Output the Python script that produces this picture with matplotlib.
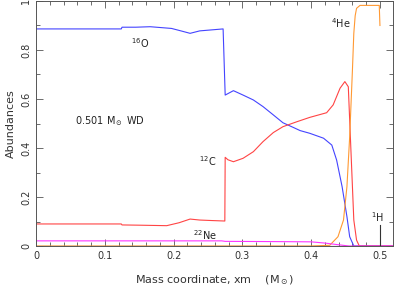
import numpy as np
import matplotlib
matplotlib.use('Agg')
import matplotlib.pyplot as plt
from matplotlib.ticker import MultipleLocator

# abundance profiles (mass coordinate in Msun)
o16_m = [0.0, 0.124, 0.125, 0.145, 0.166, 0.197, 0.212, 0.224, 0.238, 0.255, 0.272,
         0.275, 0.279, 0.287, 0.301, 0.316, 0.330, 0.345, 0.359, 0.374, 0.384, 0.398,
         0.418, 0.43, 0.437, 0.445, 0.452, 0.456, 0.462, 0.52]
o16_x = [0.886, 0.886, 0.893, 0.893, 0.895, 0.888, 0.877, 0.868, 0.878, 0.882, 0.886,
         0.616, 0.622, 0.634, 0.616, 0.596, 0.569, 0.535, 0.503, 0.484, 0.471, 0.46,
         0.44, 0.412, 0.351, 0.242, 0.12, 0.038, 0.0, 0.0]

c12_m = [0.0, 0.124, 0.125, 0.15, 0.19, 0.208, 0.224, 0.238, 0.255, 0.2745,
         0.275, 0.279, 0.287, 0.301, 0.316, 0.33, 0.345, 0.359, 0.379, 0.398, 0.4225,
         0.432, 0.442, 0.449, 0.454, 0.456, 0.459, 0.462, 0.466, 0.47, 0.52]
c12_x = [0.09, 0.09, 0.086, 0.085, 0.083, 0.095, 0.11, 0.106, 0.104, 0.102,
         0.362, 0.352, 0.344, 0.358, 0.385, 0.426, 0.463, 0.487, 0.507, 0.525, 0.544,
         0.576, 0.644, 0.671, 0.65, 0.514, 0.31, 0.106, 0.024, 0.0, 0.0]

he4_m = [0.0, 0.40, 0.427, 0.439, 0.447, 0.452, 0.456, 0.46, 0.462, 0.464, 0.466,
         0.471, 0.499, 0.5]
he4_x = [0.0, 0.0, 0.003, 0.038, 0.106, 0.242, 0.446, 0.718, 0.868, 0.94, 0.97,
         0.982, 0.982, 0.90]

ne22_m = [0.0, 0.27, 0.275, 0.35, 0.40, 0.42, 0.44, 0.455, 0.52]
ne22_x = [0.021, 0.021, 0.019, 0.018, 0.017, 0.012, 0.005, 0.0, 0.0]

h1_m = [0.0, 0.4995, 0.5, 0.5]
h1_x = [0.0, 0.0, 0.0, 0.086]

plt.rcParams['font.family'] = ['DejaVu Sans']
plt.rcParams['mathtext.fontset'] = 'dejavusans'

fig = plt.figure(figsize=(3.94, 2.91), dpi=100)
ax = fig.add_axes([0.0914, 0.1546, 0.9061, 0.842])

ax.plot(o16_m, o16_x, color='#4444ff', lw=0.8)
ax.plot(c12_m, c12_x, color='#ff4444', lw=0.8)
ax.plot(he4_m, he4_x, color='#ff9933', lw=0.8)
ax.plot(ne22_m, ne22_x, color='#ff33ff', lw=0.8)
ax.plot(h1_m, h1_x, color='#333333', lw=0.8)

ax.set_xlim(0, 0.519)
ax.set_ylim(0, 1.0)
ax.xaxis.set_major_locator(MultipleLocator(0.1))
ax.xaxis.set_minor_locator(MultipleLocator(0.02))
ax.yaxis.set_major_locator(MultipleLocator(0.2))
ax.yaxis.set_minor_locator(MultipleLocator(0.1))
ax.tick_params(which='both', direction='in', top=True, right=True, colors='#555555',
               labelcolor='#333333', labelsize=7)
ax.tick_params(which='major', length=5, width=0.6)
ax.tick_params(which='minor', length=3, width=0.6)
ax.set_xticks([0, 0.1, 0.2, 0.3, 0.4, 0.5])
ax.set_xticklabels(['0', '0.1', '0.2', '0.3', '0.4', '0.5'])
ax.set_yticks([0, 0.2, 0.4, 0.6, 0.8, 1.0])
ax.set_yticklabels(['0', '0.2', '0.4', '0.6', '0.8', '1'], rotation=90, va='center')
for s in ax.spines.values():
    s.set_color('#555555')
    s.set_linewidth(0.7)

ax.set_xlabel(r'Mass coordinate, xm    (M$_\odot$)', fontsize=8, color='#333333', labelpad=9)
ax.set_ylabel('Abundances', fontsize=8, color='#333333', labelpad=4)

tc = '#222222'
ax.text(0.152, 0.83, r'$^{16}$O', fontsize=7, color=tc, ha='center', va='center')
ax.text(0.107, 0.51, r'0.501 M$_\odot$ WD', fontsize=7, color=tc, ha='center', va='center')
ax.text(0.443, 0.91, r'$^{4}$He', fontsize=7, color=tc, ha='center', va='center')
ax.text(0.25, 0.345, r'$^{12}$C', fontsize=7, color=tc, ha='center', va='center')
ax.text(0.245, 0.045, r'$^{22}$Ne', fontsize=7, color=tc, ha='center', va='center')
ax.text(0.497, 0.12, r'$^{1}$H', fontsize=7, color=tc, ha='center', va='center')

fig.savefig('out.png', dpi=100)
